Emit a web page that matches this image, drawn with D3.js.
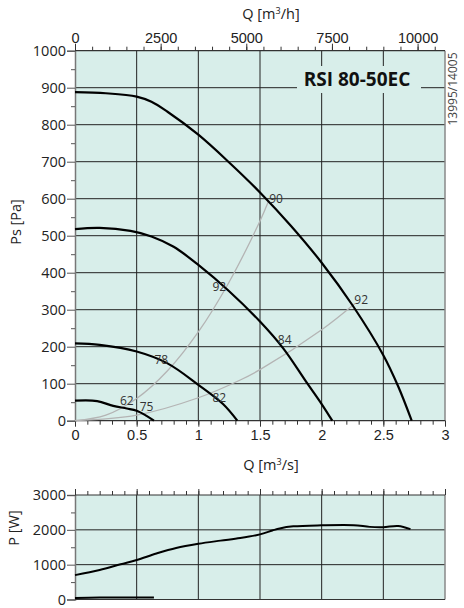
<!DOCTYPE html>
<html><head><meta charset="utf-8">
<script src="https://cdn.jsdelivr.net/npm/d3@7"></script>
<style>
body{margin:0;background:#fff;}
svg{display:block;font-family:"Open Sans",sans-serif;}
</style></head>
<body>
<svg id="c" width="464" height="608"></svg>
<script>
// ---- data ----
const qTicks = [0, 0.5, 1, 1.5, 2, 2.5, 3];
const qTickLabels = ["0", "0.5", "1", "1.5", "2", "2.5", "3"];
const qhTicks = [0, 2500, 5000, 7500, 10000];
const psTicks = [0, 100, 200, 300, 400, 500, 600, 700, 800, 900, 1000];
const pTicks = [0, 1000, 2000, 3000];

// fan curves [Q m3/s, Ps Pa]
const curve890 = [[0,888],[0.25,885],[0.5,876],[0.62,862],[0.75,835],[1,773],[1.25,698],[1.5,617],[1.75,527],[2,427],[2.25,312],[2.5,177],[2.62,93],[2.73,0]];
const curve520 = [[0,518],[0.2,521],[0.45,513],[0.62,498],[0.8,470],[1,421],[1.25,350],[1.5,268],[1.69,195],[1.875,105],[2,45],[2.086,0]];
const curve210 = [[0,209],[0.2,205],[0.5,187],[0.75,155],[1,97],[1.2,45],[1.316,0]];
const curve55 = [[0,54],[0.18,53],[0.31,40],[0.42,33],[0.5,27],[0.58,13],[0.64,0]];
// system curves
const sysA = [[0,0],[0.25,15],[0.5,60],[0.75,135],[1,240],[1.25,375],[1.5,540],[1.567,592]];
const sysB = [[0,0],[0.5,15],[1,62],[1.34,110],[1.5,138],[2,246],[2.27,317]];
// efficiency labels [Q, Ps, text]
const effLabels = [[1.63,600,"90"],[1.17,362,"92"],[2.32,328,"92"],[1.7,220,"84"],[0.7,164,"78"],[1.17,63,"82"],[0.42,55,"62"],[0.58,38,"75"]];
// power curves [Q, P W]
const power1 = [[0,700],[0.2,845],[0.37,1010],[0.5,1133],[0.66,1320],[0.82,1480],[1,1600],[1.18,1690],[1.34,1765],[1.5,1870],[1.6,1980],[1.66,2040],[1.77,2100],[2,2130],[2.26,2134],[2.39,2085],[2.5,2077],[2.62,2110],[2.72,2019]];
const power2 = [[0,40],[0.2,55],[0.64,60]];

// ---- layout ----
const svg = d3.select("#c");
const bg = "#d8eeea";
const L = 75, R = 445;
const x = d3.scaleLinear().domain([0,3]).range([L,R]);
const y = d3.scaleLinear().domain([0,1000]).range([420.7,50.7]);
const xh = d3.scaleLinear().domain([0,3*3600]).range([L,R]);
const y2 = d3.scaleLinear().domain([0,3000]).range([599.5,495]);

function panel(ys, yTickVals, gridY, minorY){
  const top = ys.range()[1], bot = ys.range()[0];
  svg.append("rect").attr("x",L).attr("y",top).attr("width",R-L).attr("height",bot-top).attr("fill",bg);
  const g = svg.append("g");
  gridY.forEach(v=>g.append("line").attr("x1",L).attr("x2",R).attr("y1",ys(v)).attr("y2",ys(v)).attr("stroke","#222").attr("stroke-width",1));
  qTicks.slice(1,-1).forEach(v=>g.append("line").attr("x1",x(v)).attr("x2",x(v)).attr("y1",top).attr("y2",bot).attr("stroke","#222").attr("stroke-width",1));
  const ax = d3.axisLeft(ys).tickValues(yTickVals).tickSize(8).tickFormat(d3.format("d"));
  const ga = svg.append("g").attr("transform",`translate(${L},0)`).call(ax);
  ga.select(".domain").attr("stroke","#777").attr("stroke-width",1.5);
  ga.selectAll(".tick line").attr("stroke","#555");
  ga.selectAll("text").attr("font-size",14.5).attr("fill","#222").attr("font-family","Open Sans").attr("x",-9);
  const gm = svg.append("g").attr("transform",`translate(${L},0)`).call(d3.axisLeft(ys).tickValues(minorY).tickSize(4).tickFormat(""));
  gm.select(".domain").remove(); gm.selectAll(".tick line").attr("stroke","#555");
  svg.append("line").attr("x1",R).attr("x2",R).attr("y1",top).attr("y2",bot).attr("stroke","#888").attr("stroke-width",1.5);
  return g;
}

// main panel
panel(y, psTicks, psTicks.slice(1,-1), d3.range(50,1000,100));
svg.append("line").attr("x1",L).attr("x2",R).attr("y1",y(1000)).attr("y2",y(1000)).attr("stroke","#333").attr("stroke-width",1.2);
const gt = svg.append("g").attr("transform",`translate(0,${y(1000)})`).call(d3.axisTop(xh).tickValues(d3.range(0,10801,500)).tickSize(4).tickFormat(""));
gt.select(".domain").remove(); gt.selectAll(".tick line").attr("stroke","#333");
const gt2 = svg.append("g").attr("transform",`translate(0,${y(1000)})`).call(d3.axisTop(xh).tickValues(qhTicks).tickSize(7).tickFormat(d3.format("d")));
gt2.select(".domain").remove(); gt2.selectAll(".tick line").attr("stroke","#333");
gt2.selectAll("text").attr("font-size",14.5).attr("fill","#222").attr("y",-8);
svg.append("text").attr("x",271).attr("y",19).attr("text-anchor","middle").attr("font-size",14.5).attr("fill","#222")
  .html('Q [m<tspan dy="-5" font-size="9">3</tspan><tspan dy="5">/h]</tspan>');

// bottom axis
svg.append("line").attr("x1",L).attr("x2",R).attr("y1",y(0)).attr("y2",y(0)).attr("stroke","#333").attr("stroke-width",1.2);
const gb = svg.append("g").attr("transform",`translate(0,${y(0)})`).call(d3.axisBottom(x).tickValues(d3.range(0,3.001,0.1)).tickSize(4).tickFormat(""));
gb.select(".domain").remove(); gb.selectAll(".tick line").attr("stroke","#333");
const gb2 = svg.append("g").attr("transform",`translate(0,${y(0)})`).call(d3.axisBottom(x).tickValues(qTicks).tickSize(6).tickFormat((d,i)=>qTickLabels[i]));
gb2.select(".domain").remove(); gb2.selectAll(".tick line").attr("stroke","#333");
gb2.selectAll("text").attr("font-size",14.5).attr("fill","#222").attr("y",9);
svg.append("text").attr("x",271).attr("y",470).attr("text-anchor","middle").attr("font-size",14.5).attr("fill","#222")
  .html('Q [m<tspan dy="-5" font-size="9">3</tspan><tspan dy="5">/s]</tspan>');
svg.append("text").attr("transform","translate(21,222) rotate(-90)").attr("text-anchor","middle").attr("font-size",14.5).attr("fill","#222").text("Ps [Pa]");

// curves
const lineM = d3.line().x(d=>x(d[0])).y(d=>y(d[1])).curve(d3.curveCatmullRom.alpha(0.5));
[sysA, sysB].forEach(s=>svg.append("path").attr("d",lineM(s)).attr("fill","none").attr("stroke","#b4b4b4").attr("stroke-width",1.3));
[curve890, curve520, curve210, curve55].forEach(c=>svg.append("path").attr("d",lineM(c)).attr("fill","none").attr("stroke","#000").attr("stroke-width",2.2));
effLabels.forEach(d=>svg.append("text").attr("x",x(d[0])).attr("y",y(d[1])).attr("text-anchor","middle").attr("dy","0.35em").attr("font-size",12).attr("fill","#333").text(d[2]));

// title box
svg.append("rect").attr("x",297).attr("y",66).attr("width",124).attr("height",27).attr("fill",bg);
svg.append("text").attr("x",357).attr("y",86).attr("text-anchor","middle").attr("font-size",19).attr("font-weight","bold").attr("fill","#111").text("RSI 80-50EC");
svg.append("text").attr("transform","translate(457,89) rotate(-90)").attr("text-anchor","middle").attr("font-size",12).attr("fill","#444").text("13995/14005");

// power panel
panel(y2, pTicks, [1000,2000], [500,1500,2500]);
svg.append("line").attr("x1",L).attr("x2",R).attr("y1",y2(3000)).attr("y2",y2(3000)).attr("stroke","#333").attr("stroke-width",1.2);
const gp = svg.append("g").attr("transform",`translate(0,${y2(3000)})`).call(d3.axisTop(x).tickValues(d3.range(0,3.001,0.1)).tickSize(4).tickFormat(""));
gp.select(".domain").remove(); gp.selectAll(".tick line").attr("stroke","#333");
const gp2 = svg.append("g").attr("transform",`translate(0,${y2(3000)})`).call(d3.axisTop(x).tickValues(qTicks).tickSize(6).tickFormat(""));
gp2.select(".domain").remove(); gp2.selectAll(".tick line").attr("stroke","#333");
svg.append("line").attr("x1",L).attr("x2",R).attr("y1",y2(0)).attr("y2",y2(0)).attr("stroke","#333").attr("stroke-width",1.2);
svg.append("text").attr("transform","translate(19,528) rotate(-90)").attr("text-anchor","middle").attr("font-size",14.5).attr("fill","#222").text("P [W]");
const lineP = d3.line().x(d=>x(d[0])).y(d=>y2(d[1])).curve(d3.curveCatmullRom.alpha(0.5));
[power1, power2].forEach(c=>svg.append("path").attr("d",lineP(c)).attr("fill","none").attr("stroke","#000").attr("stroke-width",2));
</script>
</body></html>
